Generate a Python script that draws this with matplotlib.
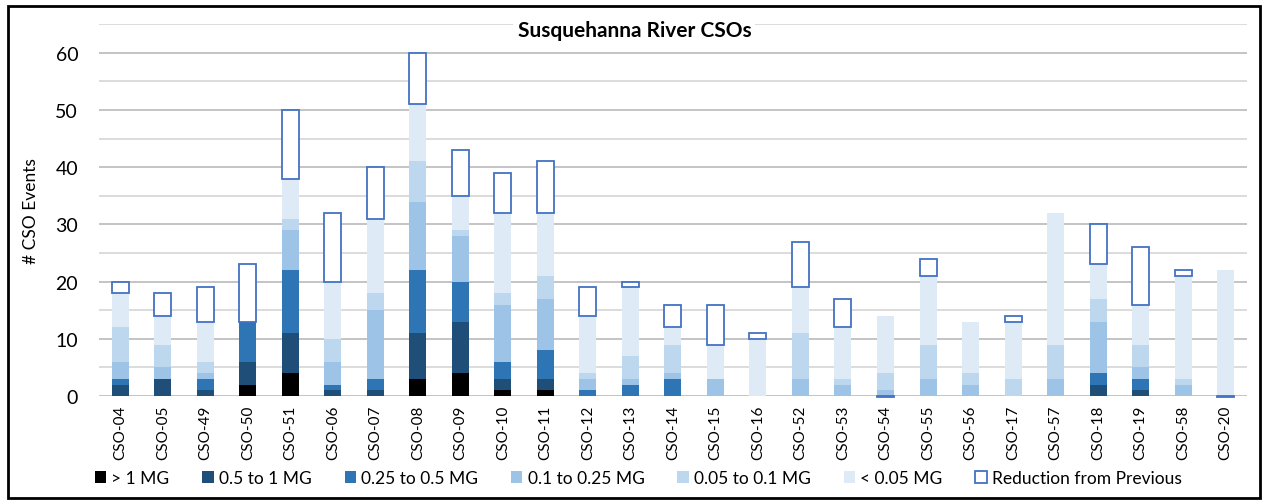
import matplotlib
matplotlib.use("Agg")
import matplotlib.pyplot as plt
import numpy as np
from matplotlib.patches import Rectangle

plt.rcParams["font.family"] = ["Lato", "DejaVu Sans"]

CATEGORIES = [
    "CSO-04", "CSO-05", "CSO-49", "CSO-50", "CSO-51", "CSO-06", "CSO-07",
    "CSO-08", "CSO-09", "CSO-10", "CSO-11", "CSO-12", "CSO-13", "CSO-14",
    "CSO-15", "CSO-16", "CSO-52", "CSO-53", "CSO-54", "CSO-55", "CSO-56",
    "CSO-17", "CSO-57", "CSO-18", "CSO-19", "CSO-58", "CSO-20",
]

# events per overflow volume class
GT_1MG =        [0, 0, 0, 2, 4, 0, 0, 3, 4, 1, 1, 0, 0, 0, 0, 0, 0, 0, 0, 0, 0, 0, 0, 0, 0, 0, 0]
MG_05_TO_1 =    [2, 3, 1, 4, 7, 1, 1, 8, 9, 2, 2, 0, 0, 0, 0, 0, 0, 0, 0, 0, 0, 0, 0, 2, 1, 0, 0]
MG_025_TO_05 =  [1, 0, 2, 7, 11, 1, 2, 11, 7, 3, 5, 1, 2, 3, 0, 0, 0, 0, 0, 0, 0, 0, 0, 2, 2, 0, 0]
MG_01_TO_025 =  [3, 2, 1, 0, 7, 4, 12, 12, 8, 10, 9, 2, 1, 1, 3, 0, 3, 2, 1, 3, 2, 0, 3, 9, 2, 2, 0]
MG_005_TO_01 =  [6, 4, 2, 0, 2, 4, 3, 7, 1, 2, 4, 1, 4, 5, 0, 0, 8, 1, 3, 6, 2, 3, 6, 4, 4, 1, 0]
LT_005MG =      [6, 5, 7, 0, 7, 10, 13, 10, 6, 14, 11, 10, 12, 3, 6, 10, 8, 9, 10, 12, 9, 10, 23, 6, 7, 18, 22]
# negative = more events than before (Excel stacks those down from zero)
REDUCTION =     [2, 4, 6, 10, 12, 12, 9, 9, 8, 7, 9, 5, 1, 4, 7, 1, 8, 5, -0.2, 3, 0, 1, 0, 7, 10, 1, -0.2]

SERIES = [
    ("> 1 MG", GT_1MG, "#000000"),
    ("0.5 to 1 MG", MG_05_TO_1, "#1F4E79"),
    ("0.25 to 0.5 MG", MG_025_TO_05, "#2E75B6"),
    ("0.1 to 0.25 MG", MG_01_TO_025, "#9DC3E6"),
    ("0.05 to 0.1 MG", MG_005_TO_01, "#BDD7EE"),
    ("< 0.05 MG", LT_005MG, "#DEEBF7"),
]


def main() -> None:
    fig = plt.figure(figsize=(12.74, 5.02), dpi=100)
    ax = fig.add_axes([0.0777, 0.209, 0.901, 0.741])

    x = np.arange(len(CATEGORIES))
    width = 0.4
    bottom = np.zeros(len(CATEGORIES))
    for label, values, color in SERIES:
        vals = np.array(values, dtype=float)
        ax.bar(x, vals, width, bottom=bottom, color=color, label=label, zorder=3)
        bottom += vals

    red = np.array(REDUCTION, dtype=float)
    shown = red != 0
    red_bottom = np.where(red > 0, bottom, 0.0)
    ax.bar(x[shown], red[shown], width, bottom=red_bottom[shown], facecolor="white",
           edgecolor="#4472C4", linewidth=1.3, label="Reduction from Previous",
           zorder=3, clip_on=False)

    ax.set_xlim(-0.5, len(CATEGORIES) - 0.5)
    ax.set_ylim(0, 65)
    ax.set_yticks(np.arange(0, 61, 10))
    ax.set_yticks(np.arange(5, 66, 10), minor=True)
    ax.tick_params(axis="y", which="both", length=0, pad=15, labelsize=14)
    ax.tick_params(axis="x", length=0, pad=6, labelsize=11)
    ax.set_xticks(x)
    ax.set_xticklabels(CATEGORIES, rotation=90)
    ax.grid(axis="y", which="major", color="#BFBFBF", linewidth=1.3, zorder=0)
    ax.grid(axis="y", which="minor", color="#D9D9D9", linewidth=1.3, zorder=0)
    for side in ["top", "right", "left", "bottom"]:
        ax.spines[side].set_visible(False)
    ax.set_ylabel("# CSO Events", fontsize=12.5)
    ax.yaxis.set_label_coords(-0.052, 0.5)

    fig.text(0.498, 0.939, "Susquehanna River CSOs", ha="center", va="center",
             fontsize=15, fontweight="bold",
             bbox=dict(facecolor="white", edgecolor="none", pad=3))

    handles, labels = ax.get_legend_handles_labels()
    fig.legend(handles, labels, loc="center", bbox_to_anchor=(0.501, 0.046), ncol=7,
               frameon=False, fontsize=12.5, handlelength=0.65, handleheight=0.65,
               handletextpad=0.3, columnspacing=1.9)

    fig.add_artist(Rectangle((0.006, 0.006), 0.983, 0.981, transform=fig.transFigure,
                             fill=False, edgecolor="#000000", linewidth=2.0))

    fig.savefig("out.png", dpi=100)


if __name__ == "__main__":
    main()
